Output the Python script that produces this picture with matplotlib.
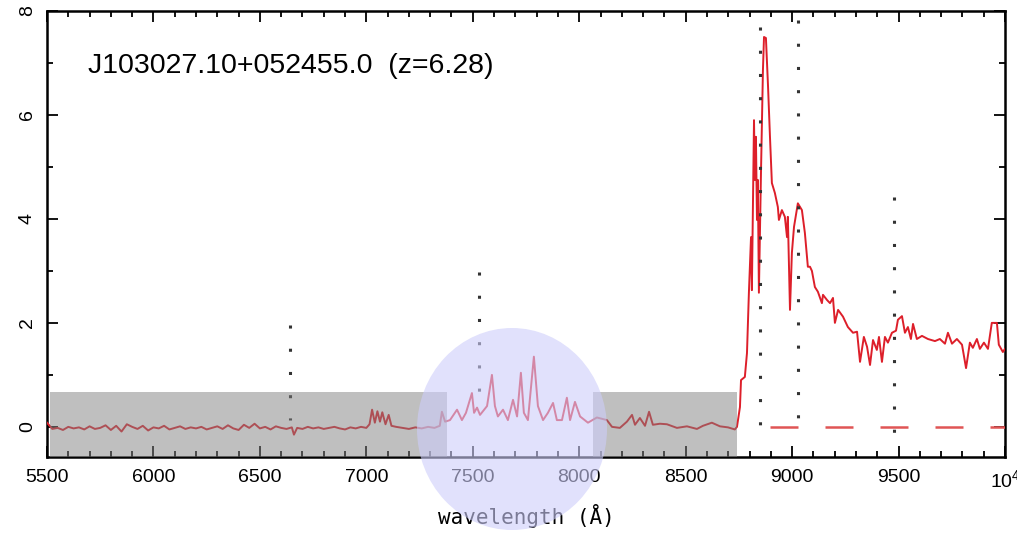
import matplotlib
matplotlib.use("Agg")
import matplotlib.pyplot as plt
from matplotlib.patches import Rectangle, Ellipse
from matplotlib.ticker import MultipleLocator

plt.rcParams['font.family'] = ['Liberation Sans', 'DejaVu Sans']
plt.rcParams['mathtext.default'] = 'regular'

# Observed-frame spectrum (wavelength in Angstrom, flux density)
wavelength = [
    5500, 5525, 5550, 5575, 5600, 5625, 5650, 5675, 5700, 5725,
    5750, 5775, 5800, 5825, 5850, 5875, 5900, 5925, 5950, 5975,
    6000, 6025, 6050, 6075, 6100, 6125, 6150, 6175, 6200, 6225,
    6250, 6275, 6300, 6325, 6350, 6375, 6400, 6425, 6450, 6475,
    6500, 6525, 6550, 6575, 6600, 6625, 6650, 6660, 6675, 6700,
    6725, 6750, 6775, 6800, 6825, 6850, 6875, 6900, 6925, 6950,
    6975, 7000, 7015, 7027, 7040, 7052, 7064, 7075, 7090, 7105,
    7118, 7140, 7170, 7200, 7230, 7260, 7290, 7320, 7345, 7355,
    7370, 7393, 7426, 7449, 7468, 7496, 7506, 7520, 7534, 7567,
    7590, 7604, 7618, 7642, 7665, 7689, 7708, 7726, 7740, 7759,
    7787, 7806, 7830, 7853, 7877, 7895, 7919, 7942, 7957, 7980,
    8004, 8041, 8083, 8130, 8154, 8191, 8224, 8248, 8262, 8285,
    8309, 8328, 8346, 8379, 8412, 8459, 8506, 8553, 8581, 8623,
    8661, 8699, 8731, 8741, 8755, 8760, 8778, 8788, 8797, 8807,
    8811, 8816, 8821, 8825, 8830, 8835, 8839, 8844, 8854, 8863,
    8868, 8877, 8887, 8896, 8905, 8919, 8933, 8938, 8952, 8966,
    8976, 8980, 8990, 8999, 9009, 9027, 9046, 9060, 9074, 9084,
    9093, 9107, 9121, 9140, 9145, 9164, 9178, 9192, 9201, 9216,
    9239, 9262, 9286, 9305, 9319, 9337, 9352, 9366, 9380, 9398,
    9408, 9422, 9436, 9450, 9469, 9488, 9497, 9516, 9530, 9544,
    9558, 9568, 9586, 9610, 9638, 9671, 9694, 9718, 9732, 9751,
    9774, 9798, 9817, 9835, 9849, 9868, 9882, 9901, 9920, 9938,
    9962, 9971, 9990, 10000,
]
flux = [
    0.08, -0.04, -0.02, -0.06, 0.00, -0.03, -0.01, -0.05, 0.01, -0.04,
    -0.02, 0.03, -0.06, 0.02, -0.09, 0.05, 0.00, -0.04, 0.02, -0.07,
    -0.01, -0.03, 0.02, -0.05, -0.02, 0.01, -0.04, -0.01, -0.03, 0.00,
    -0.05, -0.02, 0.01, -0.04, 0.03, -0.03, -0.06, 0.04, -0.02, 0.06,
    -0.03, 0.00, -0.05, 0.01, -0.02, -0.04, -0.01, -0.15, -0.02, -0.04,
    0.00, -0.03, -0.01, -0.04, -0.02, 0.00, -0.03, -0.05, -0.01, -0.03,
    0.00, -0.02, 0.05, 0.33, 0.08, 0.30, 0.10, 0.28, 0.05, 0.23,
    0.02, 0.00, -0.02, -0.04, -0.01, -0.03, 0.00, -0.02, 0.02, 0.29,
    0.10, 0.13, 0.33, 0.13, 0.27, 0.65, 0.27, 0.37, 0.23, 0.40,
    1.00, 0.40, 0.20, 0.33, 0.13, 0.52, 0.20, 1.04, 0.27, 0.13,
    1.35, 0.40, 0.13, 0.27, 0.46, 0.13, 0.13, 0.56, 0.13, 0.48,
    0.20, 0.08, 0.18, 0.13, 0.00, -0.02, 0.10, 0.23, 0.04, 0.17,
    0.02, 0.29, 0.04, 0.06, 0.05, -0.02, 0.01, -0.04, 0.02, 0.08,
    0.01, -0.01, -0.05, 0.00, 0.38, 0.90, 0.96, 1.42, 2.58, 3.65,
    2.63, 4.23, 5.90, 4.75, 5.58, 3.98, 4.75, 2.58, 4.94, 6.87,
    7.50, 7.48, 6.54, 5.58, 4.69, 4.50, 4.23, 3.98, 4.17, 4.04,
    3.65, 4.04, 2.25, 3.35, 3.85, 4.30, 4.17, 3.73, 3.08, 3.08,
    3.00, 2.69, 2.60, 2.38, 2.54, 2.44, 2.38, 2.48, 2.00, 2.25,
    2.12, 1.92, 1.81, 1.83, 1.25, 1.73, 1.54, 1.19, 1.67, 1.48,
    1.73, 1.25, 1.73, 1.62, 1.81, 1.85, 2.06, 2.13, 1.81, 1.92,
    1.69, 1.98, 1.69, 1.75, 1.69, 1.65, 1.69, 1.60, 1.81, 1.60,
    1.69, 1.58, 1.13, 1.62, 1.52, 1.69, 1.50, 1.62, 1.50, 2.00,
    2.00, 1.58, 1.44, 1.50,
]

# Emission/absorption features (rest frame) and redshift
redshift = 6.28
rest_features = [912.0, 1034.0, 1215.7, 1240.0, 1302.2]
feature_ymin = [0.13, 0.30, -0.15, 0.00, -0.19]
feature_ymax = [1.96, 2.98, 7.70, 7.83, 4.42]

# Wavelength windows shaded as masked
mask_windows = [(5515, 7380), (8065, 8741)]
mask_top = 0.67

xticks = [5500, 6000, 6500, 7000, 7500, 8000, 8500, 9000, 9500, 10000]
xticklabels = ['5500', '6000', '6500', '7000', '7500', '8000', '8500',
               '9000', '9500', '10$^4$']
yticks = [0, 2, 4, 6, 8]

fig = plt.figure(figsize=(10.17, 5.33), dpi=100)
ax = fig.add_axes([47 / 1017, 76 / 533, 958 / 1017, 446 / 533])

ax.plot(wavelength, flux, color='#dd1f2a', lw=1.4, zorder=3)

for rest, y0, y1 in zip(rest_features, feature_ymin, feature_ymax):
    lam = rest * (1 + redshift)
    ax.plot([lam, lam], [y1, y0], color='#333333', lw=2.2,
            linestyle=(0, (1.0, 6.6)), solid_capstyle='butt',
            dash_capstyle='butt', zorder=4)

ax.plot([8896, 10000], [0, 0], color='#e05555', lw=1.8,
        linestyle=(0, (11.2, 10.8)), zorder=4)

for lo, hi in mask_windows:
    ax.add_patch(Rectangle((lo, -0.6), hi - lo, mask_top + 0.6,
                           facecolor='#808080', alpha=0.5, lw=0, zorder=5))

ax.set_xlim(5500, 10000)
ax.set_ylim(-0.58, 8)
ax.set_xticks(xticks)
ax.set_xticklabels(xticklabels)
ax.set_yticks(yticks)
ax.set_yticklabels([str(v) for v in yticks], rotation=90, va='center')
ax.xaxis.set_minor_locator(MultipleLocator(100))
ax.yaxis.set_minor_locator(MultipleLocator(1))
ax.tick_params(which='both', direction='in', top=True, right=True,
               width=1.3, labelsize=14)
ax.tick_params(which='major', length=8)
ax.tick_params(which='minor', length=4.5)
ax.tick_params(axis='x', pad=9)
ax.tick_params(axis='y', pad=8)
for sp in ax.spines.values():
    sp.set_linewidth(1.8)

ax.set_xlabel('wavelength (Å)', fontsize=15, family='DejaVu Sans Mono',
              labelpad=9)

ax.text(0.0428, 0.877, 'J103027.10+052455.0  (z=6.28)', transform=ax.transAxes,
        fontsize=20.5, va='center', ha='left')

highlight = Ellipse((512 / 1017, 1 - 429 / 533), 190 / 1017, 202 / 533,
                    transform=fig.transFigure, facecolor='#cdcdfa',
                    alpha=0.6, lw=0, zorder=10)
fig.add_artist(highlight)

fig.savefig('out.png', dpi=100)
